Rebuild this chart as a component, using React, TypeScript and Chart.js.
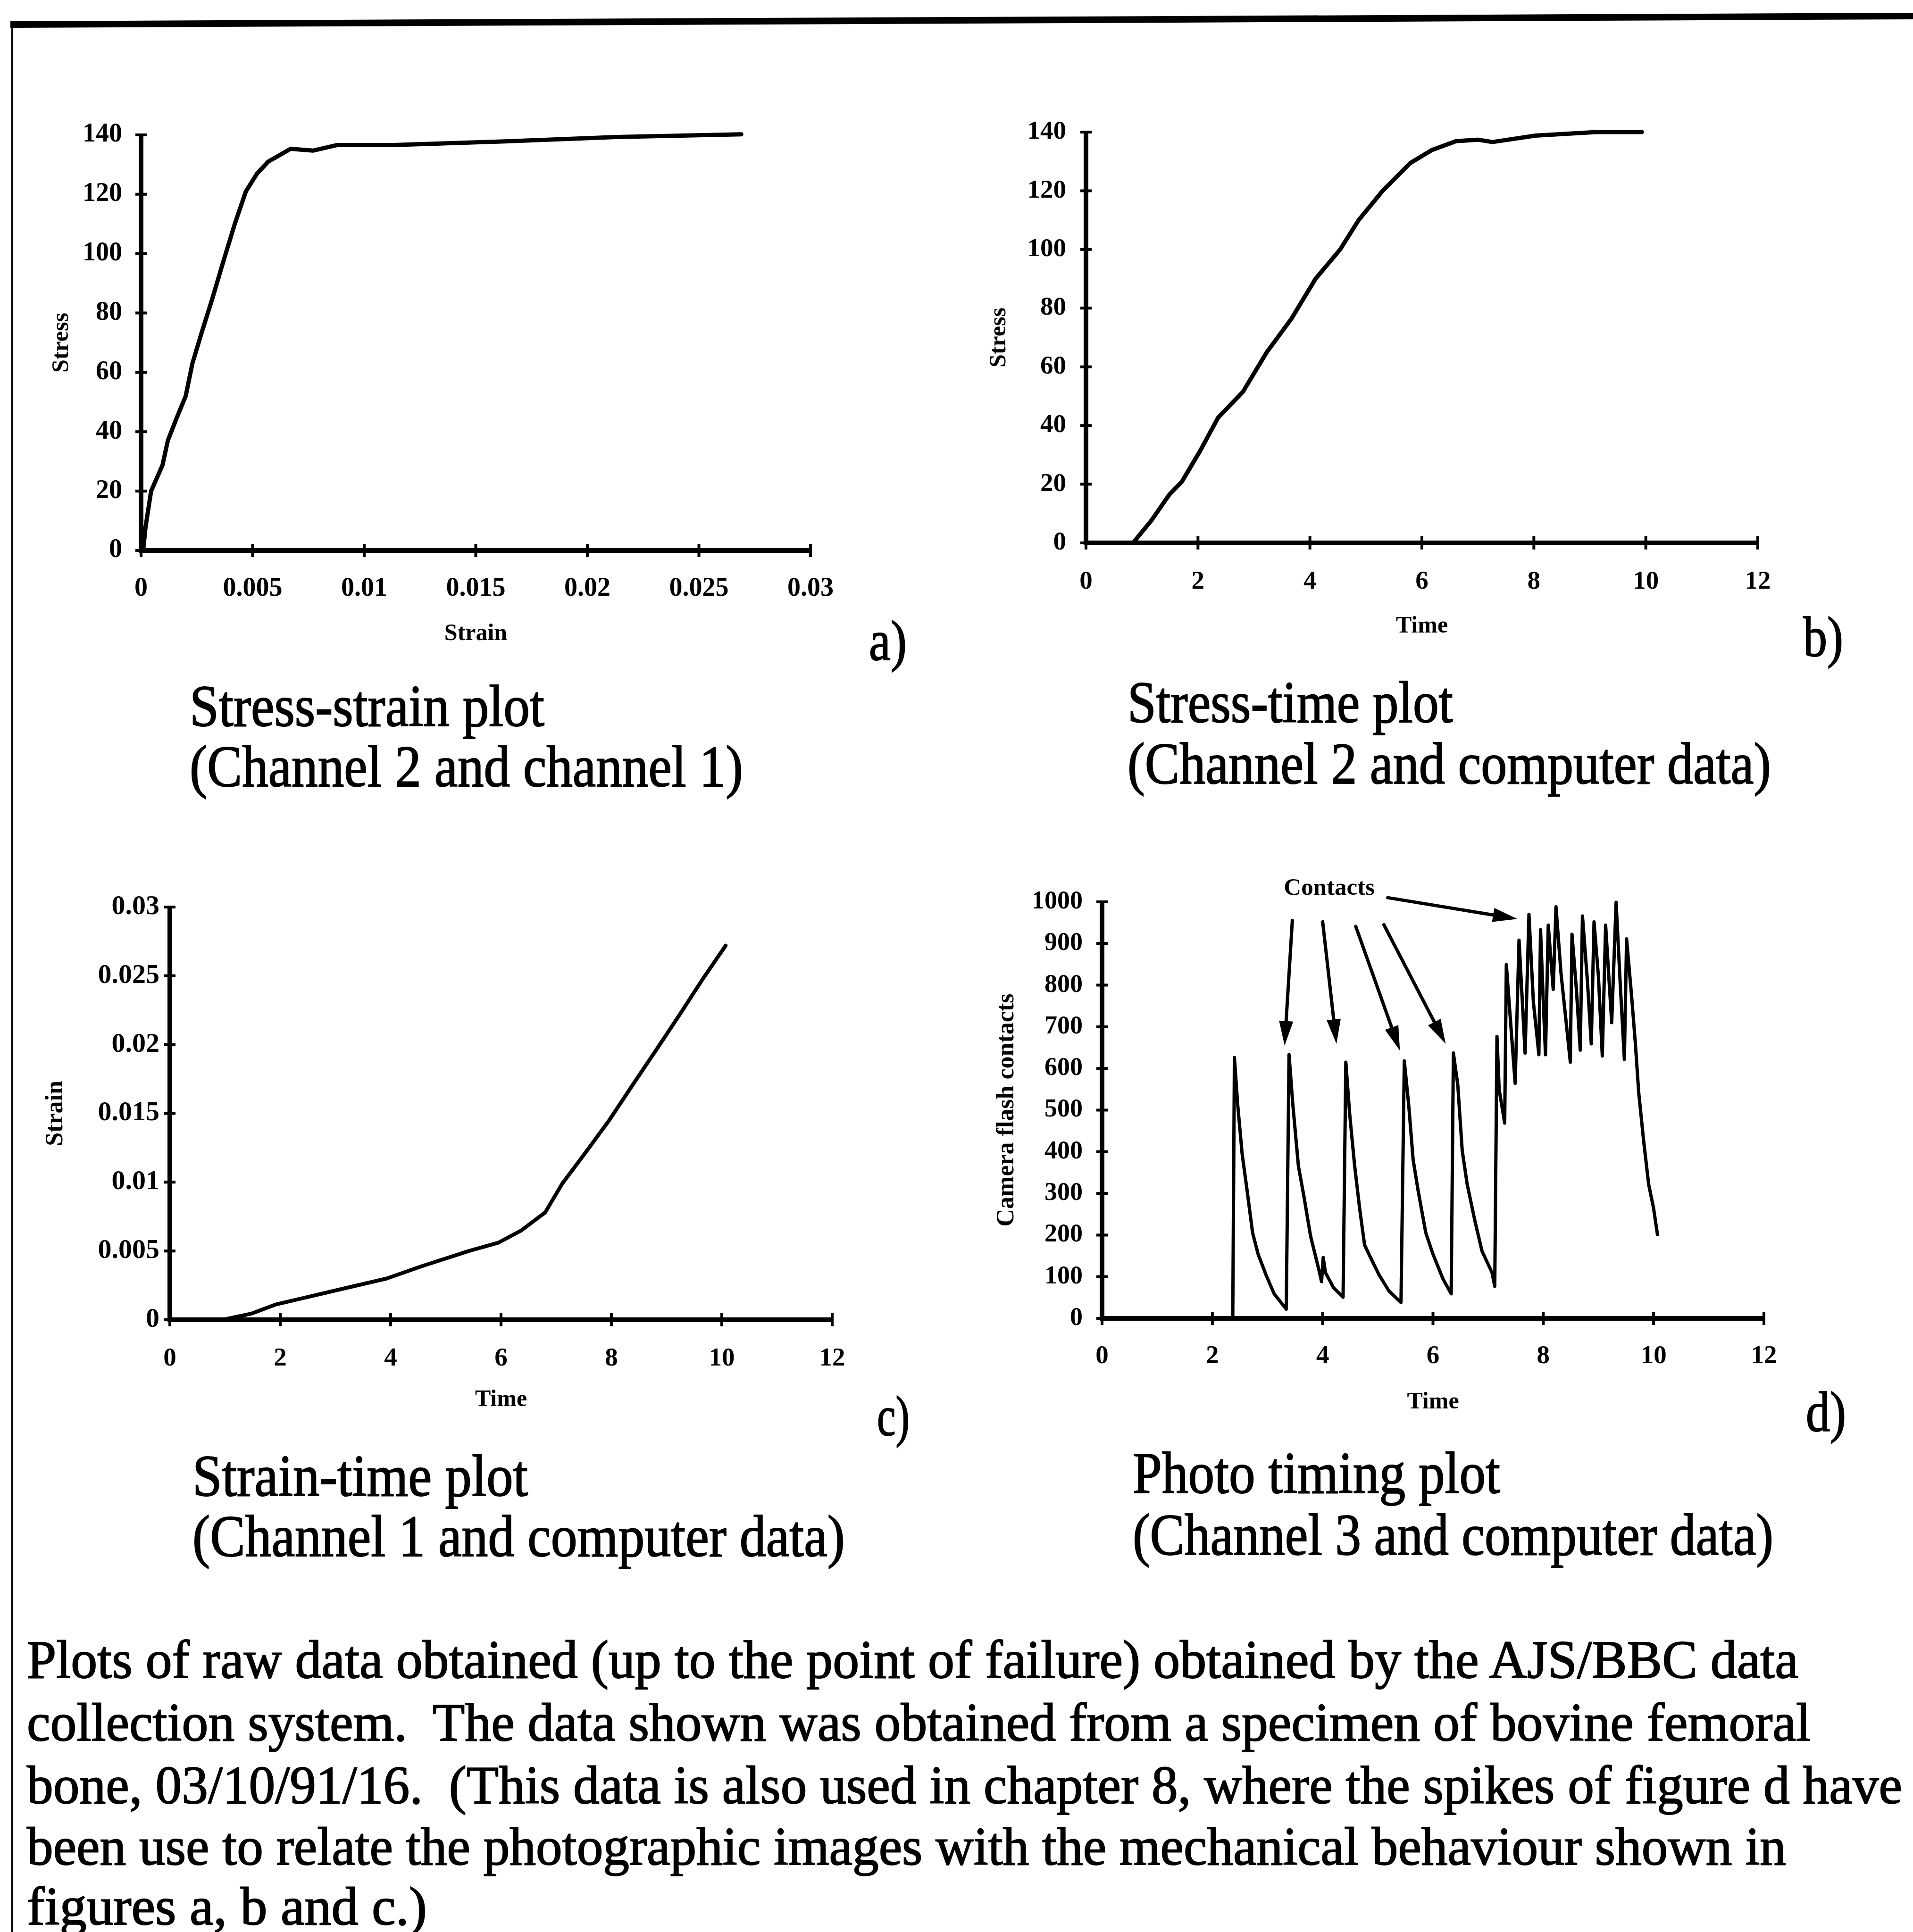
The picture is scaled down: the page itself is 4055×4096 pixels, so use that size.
import React, { useEffect, useRef } from "react";
import { Chart, registerables } from "chart.js";

Chart.register(...registerables);

const SERIF = "'Liberation Serif', 'Times New Roman', serif";

// ---------- (a) Stress-strain ----------
const A_STRAIN = [0, 0.0001, 0.0002, 0.00045, 0.00096, 0.0012, 0.0016, 0.002, 0.0023, 0.0027, 0.0032, 0.0037, 0.0042, 0.0047, 0.0052, 0.0057, 0.0067, 0.0077, 0.0088, 0.0113, 0.0163, 0.0213, 0.0269];
const A_STRESS = [0, 0.4, 7.8, 20, 28.7, 37, 44.7, 52, 63, 73, 85, 97.7, 110, 121, 127, 131, 135.3, 134.7, 136.6, 136.6, 137.8, 139.3, 140.2];
const A_X_TICKS = [0, 0.005, 0.01, 0.015, 0.02, 0.025, 0.03];
const A_X_LABELS = ["0", "0.005", "0.01", "0.015", "0.02", "0.025", "0.03"];
const STRESS_TICKS = [0, 20, 40, 60, 80, 100, 120, 140];
const STRESS_LABELS = ["0", "20", "40", "60", "80", "100", "120", "140"];

// ---------- (b) Stress-time ----------
const B_TIME = [0, 0.84, 1.17, 1.49, 1.71, 2.04, 2.36, 2.8, 3.23, 3.67, 4.1, 4.54, 4.87, 5.3, 5.79, 6.17, 6.61, 7.0, 7.26, 8.03, 9.11, 9.93];
const B_STRESS = [0, 0, 7.7, 16.5, 20.8, 31.4, 42.7, 51.4, 65, 76.4, 90, 100, 110, 120, 129.4, 133.8, 136.9, 137.4, 136.6, 138.8, 140, 140];
const TIME_TICKS = [0, 2, 4, 6, 8, 10, 12];
const TIME_LABELS = ["0", "2", "4", "6", "8", "10", "12"];

// ---------- (c) Strain-time ----------
const C_TIME = [0, 0.96, 1.49, 1.91, 2.44, 2.97, 3.93, 4.57, 5.42, 5.95, 6.37, 6.8, 7.11, 7.54, 7.96, 8.39, 8.81, 9.24, 9.66, 10.07];
const C_STRAIN = [0, 0, 0.00046, 0.0011, 0.0016, 0.0021, 0.003, 0.0039, 0.005, 0.0056, 0.0065, 0.0078, 0.0099, 0.0122, 0.0145, 0.0171, 0.0196, 0.0222, 0.0248, 0.0272];
const C_Y_TICKS = [0, 0.005, 0.01, 0.015, 0.02, 0.025, 0.03];
const C_Y_LABELS = ["0", "0.005", "0.01", "0.015", "0.02", "0.025", "0.03"];

// ---------- (d) Photo timing ----------
const D_TIME = [0, 2.37, 2.4, 2.46, 2.54, 2.63, 2.73, 2.83, 2.98, 3.12, 3.34, 3.39, 3.46, 3.56, 3.66, 3.78, 3.93, 3.98, 4.01, 4.05, 4.2, 4.37, 4.42, 4.49, 4.58, 4.67, 4.76, 4.89, 5.02, 5.2, 5.42, 5.48, 5.56, 5.64, 5.73, 5.87, 6.0, 6.18, 6.33, 6.37, 6.45, 6.53, 6.62, 6.76, 6.89, 7.07, 7.12, 7.16, 7.2, 7.3, 7.33, 7.42, 7.49, 7.56, 7.67, 7.74, 7.82, 7.92, 7.95, 8.0, 8.04, 8.09, 8.18, 8.23, 8.32, 8.49, 8.52, 8.6, 8.67, 8.71, 8.8, 8.87, 8.92, 9.0, 9.07, 9.13, 9.24, 9.32, 9.4, 9.47, 9.51, 9.6, 9.67, 9.73, 9.82, 9.91, 10.0, 10.07];
const D_CONTACTS = [0, 0, 626, 512, 395, 307, 205, 154, 102, 59, 22, 633, 512, 366, 293, 198, 117, 88, 146, 110, 73, 51, 615, 490, 366, 264, 176, 140, 105, 66, 38, 618, 512, 381, 307, 205, 154, 95, 59, 637, 560, 403, 322, 234, 161, 110, 77, 677, 549, 469, 849, 688, 564, 908, 637, 970, 760, 633, 933, 760, 633, 944, 790, 988, 830, 615, 922, 790, 644, 966, 810, 659, 952, 820, 630, 944, 710, 999, 790, 622, 911, 775, 659, 542, 425, 322, 264, 201];
const D_Y_TICKS = [0, 100, 200, 300, 400, 500, 600, 700, 800, 900, 1000];
const D_Y_LABELS = ["0", "100", "200", "300", "400", "500", "600", "700", "800", "900", "1000"];
// annotation arrows (data coordinates: time, contacts)
const D_ARROW_FROM_T = [3.45, 4.0, 4.6, 5.11, 5.18];
const D_ARROW_FROM_V = [955, 952, 941, 945, 1010];
const D_ARROW_TO_T = [3.31, 4.25, 5.4, 6.23, 7.53];
const D_ARROW_TO_V = [655, 659, 643, 659, 959];
const D_LABEL = "Contacts";
const D_LABEL_T = 4.12;
const D_LABEL_V = 1032;

// ---------- layout constants ----------
const WY = 280;
const HX = 260;
const PAD_T = 80;
const PAD_R = 120;

type Spec = {
  key: string;
  L: number; T: number; R: number; B: number;
  xs: number[]; ys: number[];
  xMin: number; xMax: number; yMin: number; yMax: number;
  xTicks: number[]; xLabels: string[]; yTicks: number[]; yLabels: string[];
  xTitle: string; yTitle: string;
  xTitleSize: number; yTitleSize: number;
  xTitlePadBottom: number; yTitlePadTop: number;
  xTickSize: number; yTickSize: number;
  xTickPad: number; yTickPad: number;
  lineWidth: number;
  arrows?: boolean;
};

const axesPlugin = {
  id: "sketchAxes",
  beforeDatasetsDraw(chart: any) {
    const { ctx, chartArea, scales } = chart;
    const { left, right, top, bottom } = chartArea;
    const x = scales.x;
    const y = scales.y;
    ctx.save();
    ctx.strokeStyle = "#000";
    ctx.lineWidth = 10;
    ctx.lineJoin = "miter";
    ctx.beginPath();
    ctx.moveTo(left, top);
    ctx.lineTo(left, bottom);
    ctx.lineTo(right, bottom);
    ctx.stroke();
    ctx.lineWidth = 6;
    ctx.beginPath();
    x.ticks.forEach((t: any) => {
      const px = x.getPixelForValue(t.value);
      ctx.moveTo(px, bottom - 14);
      ctx.lineTo(px, bottom + 14);
    });
    y.ticks.forEach((t: any) => {
      const py = y.getPixelForValue(t.value);
      ctx.moveTo(left - 12, py);
      ctx.lineTo(left + 12, py);
    });
    ctx.stroke();
    ctx.restore();
  },
};

const arrowsPlugin = {
  id: "contactArrows",
  afterDatasetsDraw(chart: any) {
    const { ctx, scales } = chart;
    const x = scales.x;
    const y = scales.y;
    ctx.save();
    ctx.strokeStyle = "#000";
    ctx.fillStyle = "#000";
    ctx.lineWidth = 7;
    ctx.lineCap = "round";
    for (let i = 0; i < D_ARROW_FROM_T.length; i++) {
      const x0 = x.getPixelForValue(D_ARROW_FROM_T[i]);
      const y0 = y.getPixelForValue(D_ARROW_FROM_V[i]);
      const x1 = x.getPixelForValue(D_ARROW_TO_T[i]);
      const y1 = y.getPixelForValue(D_ARROW_TO_V[i]);
      const dx = x1 - x0;
      const dy = y1 - y0;
      const len = Math.hypot(dx, dy);
      const ux = dx / len;
      const uy = dy / len;
      const HL = 52;
      const HW = 15;
      ctx.beginPath();
      ctx.moveTo(x0, y0);
      ctx.lineTo(x1 - ux * HL * 0.8, y1 - uy * HL * 0.8);
      ctx.stroke();
      const bx = x1 - ux * HL;
      const by = y1 - uy * HL;
      ctx.beginPath();
      ctx.moveTo(x1, y1);
      ctx.lineTo(bx - uy * HW, by + ux * HW);
      ctx.lineTo(bx + uy * HW, by - ux * HW);
      ctx.closePath();
      ctx.fill();
    }
    ctx.font = `bold 51px ${SERIF}`;
    ctx.textAlign = "center";
    ctx.textBaseline = "middle";
    ctx.fillText(D_LABEL, x.getPixelForValue(D_LABEL_T), y.getPixelForValue(D_LABEL_V));
    ctx.restore();
  },
};

function buildConfig(s: Spec): any {
  const plugins: any[] = [axesPlugin];
  if (s.arrows) plugins.push(arrowsPlugin);
  return {
    type: "line",
    data: {
      datasets: [
        {
          data: s.xs.map((v, i) => ({ x: v, y: s.ys[i] })),
          borderColor: "#000",
          borderWidth: s.lineWidth,
          pointRadius: 0,
          tension: 0,
          fill: false,
          clip: false,
          borderJoinStyle: "round",
          borderCapStyle: "round",
        },
      ],
    },
    options: {
      animation: false,
      responsive: true,
      maintainAspectRatio: false,
      devicePixelRatio: 1,
      events: [],
      layout: { padding: { top: PAD_T, right: PAD_R, left: 0, bottom: 0 } },
      plugins: { legend: { display: false }, tooltip: { enabled: false }, title: { display: false } },
      scales: {
        x: {
          type: "linear",
          position: "bottom",
          min: s.xMin,
          max: s.xMax,
          afterBuildTicks: (sc: any) => {
            sc.ticks = s.xTicks.map((v) => ({ value: v }));
          },
          afterFit: (sc: any) => {
            sc.height = HX;
          },
          grid: { display: false, drawTicks: false },
          border: { display: false },
          ticks: {
            autoSkip: false,
            maxRotation: 0,
            minRotation: 0,
            color: "#000",
            padding: s.xTickPad,
            font: { family: SERIF, size: s.xTickSize, weight: "bold" },
            callback: (_v: any, i: number) => s.xLabels[i],
          },
          title: {
            display: true,
            text: s.xTitle,
            color: "#000",
            font: { family: SERIF, size: s.xTitleSize, weight: "bold" },
            padding: { top: 0, bottom: s.xTitlePadBottom },
          },
        },
        y: {
          type: "linear",
          position: "left",
          min: s.yMin,
          max: s.yMax,
          afterBuildTicks: (sc: any) => {
            sc.ticks = s.yTicks.map((v) => ({ value: v }));
          },
          afterFit: (sc: any) => {
            sc.width = WY;
          },
          grid: { display: false, drawTicks: false },
          border: { display: false },
          ticks: {
            autoSkip: false,
            color: "#000",
            padding: s.yTickPad,
            font: { family: SERIF, size: s.yTickSize, weight: "bold" },
            callback: (_v: any, i: number) => s.yLabels[i],
          },
          title: {
            display: true,
            text: s.yTitle,
            color: "#000",
            font: { family: SERIF, size: s.yTitleSize, weight: "bold" },
            padding: { top: s.yTitlePadTop, bottom: 0 },
          },
        },
      },
    },
    plugins,
  };
}

const SPECS: Spec[] = [
  {
    key: "a", L: 299, T: 286, R: 1718, B: 1167,
    xs: A_STRAIN, ys: A_STRESS, xMin: 0, xMax: 0.03, yMin: 0, yMax: 140,
    xTicks: A_X_TICKS, xLabels: A_X_LABELS, yTicks: STRESS_TICKS, yLabels: STRESS_LABELS,
    xTitle: "Strain", yTitle: "Stress", xTitleSize: 50, yTitleSize: 50,
    xTitlePadBottom: 53, yTitlePadTop: 82, xTickSize: 56, yTickSize: 56, xTickPad: 48, yTickPad: 40, lineWidth: 9,
  },
  {
    key: "b", L: 2302, T: 280, R: 3726, B: 1151,
    xs: B_TIME, ys: B_STRESS, xMin: 0, xMax: 12, yMin: 0, yMax: 140,
    xTicks: TIME_TICKS, xLabels: TIME_LABELS, yTicks: STRESS_TICKS, yLabels: STRESS_LABELS,
    xTitle: "Time", yTitle: "Stress", xTitleSize: 50, yTitleSize: 50,
    xTitlePadBottom: 53, yTitlePadTop: 66, xTickSize: 55, yTickSize: 55, xTickPad: 50, yTickPad: 42, lineWidth: 9,
  },
  {
    key: "c", L: 360, T: 1923, R: 1764, B: 2798,
    xs: C_TIME, ys: C_STRAIN, xMin: 0, xMax: 12, yMin: 0, yMax: 0.03,
    xTicks: TIME_TICKS, xLabels: TIME_LABELS, yTicks: C_Y_TICKS, yLabels: C_Y_LABELS,
    xTitle: "Time", yTitle: "Strain", xTitleSize: 50, yTitleSize: 52,
    xTitlePadBottom: 60, yTitlePadTop: 7, xTickSize: 55, yTickSize: 58, xTickPad: 50, yTickPad: 22, lineWidth: 8,
  },
  {
    key: "d", L: 2336, T: 1912, R: 3739, B: 2795,
    xs: D_TIME, ys: D_CONTACTS, xMin: 0, xMax: 12, yMin: 0, yMax: 1000,
    xTicks: TIME_TICKS, xLabels: TIME_LABELS, yTicks: D_Y_TICKS, yLabels: D_Y_LABELS,
    xTitle: "Time", yTitle: "Camera flash contacts", xTitleSize: 50, yTitleSize: 52,
    xTitlePadBottom: 52, yTitlePadTop: 47, xTickSize: 55, yTickSize: 54, xTickPad: 48, yTickPad: 41, lineWidth: 7,
    arrows: true,
  },
];

function Panel({ spec }: { spec: Spec }) {
  const ref = useRef<HTMLCanvasElement | null>(null);
  useEffect(() => {
    if (!ref.current) return;
    const chart = new Chart(ref.current, buildConfig(spec));
    return () => chart.destroy();
  }, [spec]);
  const w = spec.R - spec.L + WY + PAD_R;
  const h = spec.B - spec.T + PAD_T + HX;
  return (
    <div style={{ position: "absolute", left: spec.L - WY, top: spec.T - PAD_T, width: w, height: h }}>
      <canvas ref={ref} />
    </div>
  );
}

const CAPTIONS: { text: string; x: number; y: number; w: number; size: number }[] = [
  { text: "Stress-strain plot", x: 402, y: 1539, w: 752, size: 124 },
  { text: "(Channel 2 and channel 1)", x: 402, y: 1667, w: 1173, size: 124 },
  { text: "Stress-time plot", x: 2390, y: 1531, w: 690, size: 124 },
  { text: "(Channel 2 and computer data)", x: 2390, y: 1661, w: 1364, size: 124 },
  { text: "Strain-time plot", x: 408, y: 3171, w: 711, size: 124 },
  { text: "(Channel 1 and computer data)", x: 408, y: 3299, w: 1383, size: 124 },
  { text: "Photo timing plot", x: 2401, y: 3165, w: 779, size: 124 },
  { text: "(Channel 3 and computer data)", x: 2401, y: 3296, w: 1358, size: 124 },
  { text: "a)", x: 1842, y: 1399, w: 80, size: 120 },
  { text: "b)", x: 3822, y: 1391, w: 85, size: 120 },
  { text: "c)", x: 1859, y: 3043, w: 69, size: 120 },
  { text: "d)", x: 3828, y: 3034, w: 85, size: 120 },
  { text: "Plots of raw data obtained (up to the point of failure) obtained by the AJS/BBC data", x: 57, y: 3557, w: 3755, size: 114 },
  { text: "collection system.  The data shown was obtained from a specimen of bovine femoral", x: 57, y: 3690, w: 3781, size: 114 },
  { text: "bone, 03/10/91/16.  (This data is also used in chapter 8, where the spikes of figure d have", x: 57, y: 3823, w: 3975, size: 114 },
  { text: "been use to relate the photographic images with the mechanical behaviour shown in", x: 57, y: 3953, w: 3729, size: 114 },
  { text: "figures a, b and c.)", x: 57, y: 4080, w: 848, size: 114 },
];

export default function App() {
  return (
    <div style={{ position: "absolute", left: 0, top: 0, width: 4055, height: 4096, overflow: "hidden", background: "#fff" }}>
      <svg width={4055} height={4096} style={{ position: "absolute", left: 0, top: 0 }}>
        <line x1={22} y1={52} x2={4055} y2={34} stroke="#000" strokeWidth={14} />
        <line x1={26} y1={46} x2={26} y2={4096} stroke="#000" strokeWidth={4} />
        {CAPTIONS.map((c, i) => (
          <text
            key={i}
            x={c.x}
            y={c.y}
            fontFamily={SERIF}
            fontSize={c.size}
            fill="#000"
            stroke="#000"
            strokeWidth={2}
            textLength={c.w}
            lengthAdjust="spacingAndGlyphs"
            style={{ whiteSpace: "pre" }}
          >
            {c.text}
          </text>
        ))}
      </svg>
      {SPECS.map((s) => (
        <Panel key={s.key} spec={s} />
      ))}
    </div>
  );
}
